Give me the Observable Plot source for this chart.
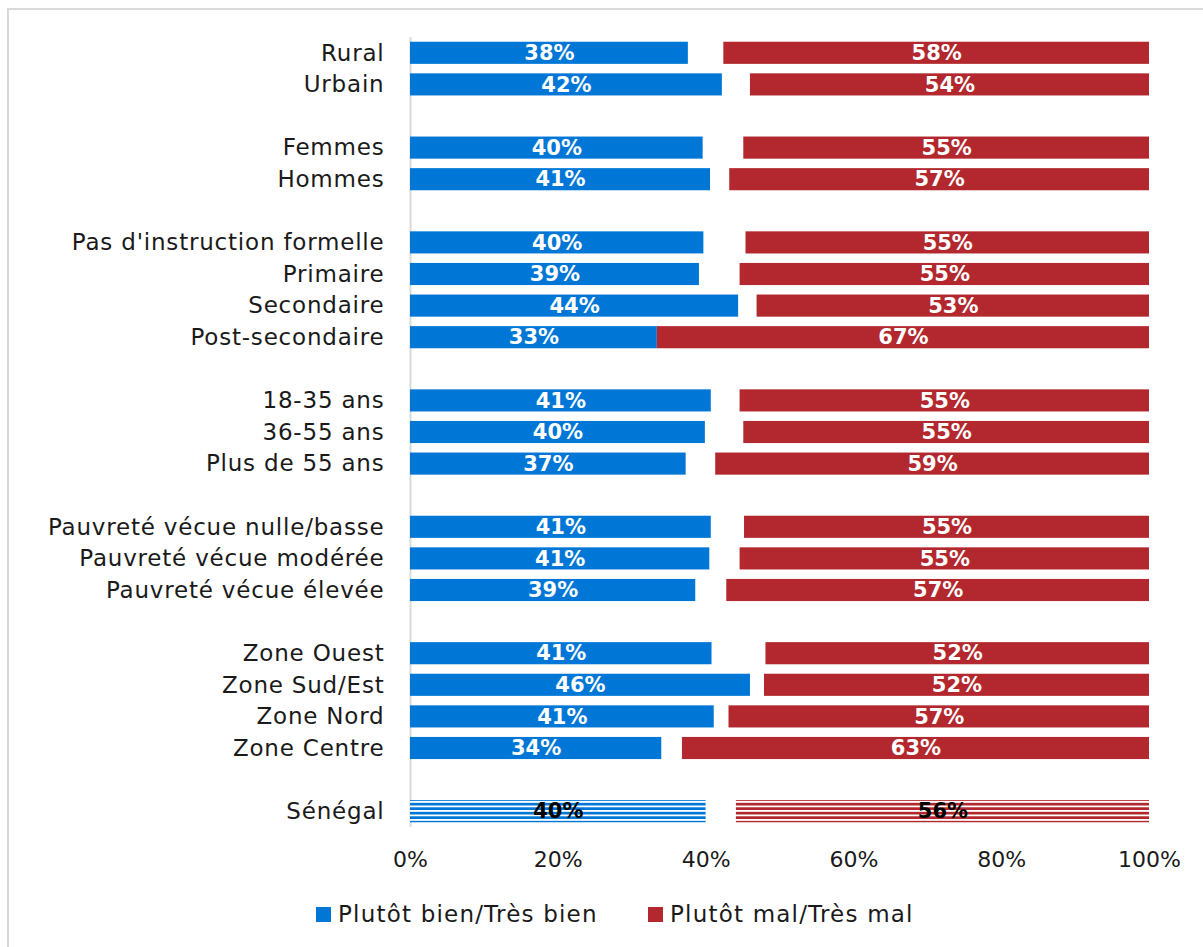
<!DOCTYPE html>
<html><head><meta charset="utf-8">
<script src="https://cdn.jsdelivr.net/npm/d3@7"></script>
<script src="https://cdn.jsdelivr.net/npm/@observablehq/plot@0.6"></script>
<style>
html,body{margin:0;padding:0;background:#fff;overflow:hidden;}
body{font-family:"DejaVu Sans",sans-serif;color:#1a1a1a;}
#frame{position:absolute;left:7px;top:8px;width:1400px;height:1200px;border-left:2px solid #d9d9d9;border-top:2px solid #d9d9d9;}
#chart{position:absolute;left:0;top:0;}
.leg{position:absolute;top:901px;display:flex;align-items:center;font-size:23px;letter-spacing:1.2px;white-space:nowrap;}
.sw{width:15px;height:15px;margin-right:7px;}
</style>
</head><body>
<div id="frame"></div>
<div id="chart"></div>
<div id="legend"></div>
<script>
const categories = ["Rural","Urbain","Femmes","Hommes","Pas d'instruction formelle","Primaire","Secondaire","Post-secondaire","18-35 ans","36-55 ans","Plus de 55 ans","Pauvreté vécue nulle/basse","Pauvreté vécue modérée","Pauvreté vécue élevée","Zone Ouest","Zone Sud/Est","Zone Nord","Zone Centre","Sénégal"];
const groups = [1,1,2,2,3,3,3,3,4,4,4,5,5,5,6,6,6,6,7];
const bien = [37.6,42.2,39.6,40.6,39.7,39.1,44.4,33.4,40.7,39.9,37.3,40.7,40.5,38.6,40.8,46.0,41.1,34.0,40.0];
const mal = [57.6,54.0,54.9,56.8,54.6,55.4,53.1,66.6,55.4,54.9,58.7,54.8,55.4,57.2,51.9,52.1,56.9,63.2,55.9];
const seriesNames = ["Plutôt bien/Très bien","Plutôt mal/Très mal"];
const seriesColors = ["#0077d6","#b2282e"];
const xTicks = [0,20,40,60,80,100];
const totalCategory = "Sénégal";

// build y domain with blank spacer rows between groups
const domain = [];
categories.forEach((c,i)=>{
  if (i>0 && groups[i]!==groups[i-1]) domain.push("__gap"+i);
  domain.push(c);
});
const rows = categories.map((c,i)=>({cat:c, bien:bien[i], mal:mal[i], total:c===totalCategory}));
const normal = rows.filter(d=>!d.total);
const total = rows.filter(d=>d.total);

const font = "DejaVu Sans, sans-serif";
const lab = {fontWeight:"bold",fontSize:21};
const svg = Plot.plot({
  width:1203, height:877,
  marginTop:37, marginBottom:50, marginLeft:410, marginRight:54,
  style:{fontFamily:font, fontSize:"20px", color:"#1a1a1a", background:"transparent"},
  x:{domain:[0,100], label:null},
  y:{domain, paddingInner:0.3, paddingOuter:0.15, round:false, label:null},
  marks:[
    Plot.ruleX([0],{stroke:"#d9d9d9",strokeWidth:2}),
    Plot.barX(normal,{y:"cat",x1:0,x2:"bien",fill:seriesColors[0]}),
    Plot.barX(normal,{y:"cat",x1:d=>100-d.mal,x2:100,fill:seriesColors[1]}),
    Plot.barX(total,{y:"cat",x1:0,x2:"bien",fill:"url(#stripeBlue)"}),
    Plot.barX(total,{y:"cat",x1:d=>100-d.mal,x2:100,fill:"url(#stripeRed)"}),
    Plot.text(normal,{y:"cat",x:d=>d.bien/2,text:d=>Math.round(d.bien)+"%",fill:"white",...lab}),
    Plot.text(normal,{y:"cat",x:d=>100-d.mal/2,text:d=>Math.round(d.mal)+"%",fill:"white",...lab}),
    Plot.text(total,{y:"cat",x:d=>d.bien/2,text:d=>Math.round(d.bien)+"%",fill:"black",...lab}),
    Plot.text(total,{y:"cat",x:d=>100-d.mal/2,text:d=>Math.round(d.mal)+"%",fill:"black",...lab}),
    Plot.axisY({tickSize:0,tickPadding:26,fontSize:23,tickFormat:d=>d.startsWith("__gap")?"":d,label:null}),
    Plot.axisX({ticks:xTicks,tickFormat:d=>d+"%",tickSize:0,tickPadding:24,fontSize:22,label:null})
  ]
});
d3.select(svg).selectAll('g[aria-label="y-axis tick label"] text').style("letter-spacing","0.8px");
const defs = d3.select(svg).insert("defs",":first-child");
function stripes(id,color){
  const p = defs.append("pattern").attr("id",id).attr("patternUnits","userSpaceOnUse")
    .attr("width",8).attr("height",4.5);
  p.append("rect").attr("width",8).attr("height",4.5).attr("fill","#ffffff");
  p.append("rect").attr("y",1.8).attr("width",8).attr("height",2.7).attr("fill",color);
}
stripes("stripeBlue",seriesColors[0]);
stripes("stripeRed",seriesColors[1]);
document.getElementById("chart").appendChild(svg);

const lg = document.getElementById("legend");
const lefts = [316,648];
seriesNames.forEach((n,i)=>{
  const it = document.createElement("div");
  it.className="leg"; it.style.left=lefts[i]+"px";
  const sw = document.createElement("div"); sw.className="sw"; sw.style.background=seriesColors[i];
  const t = document.createElement("span"); t.textContent=n;
  it.appendChild(sw); it.appendChild(t); lg.appendChild(it);
});
</script>
</body></html>
